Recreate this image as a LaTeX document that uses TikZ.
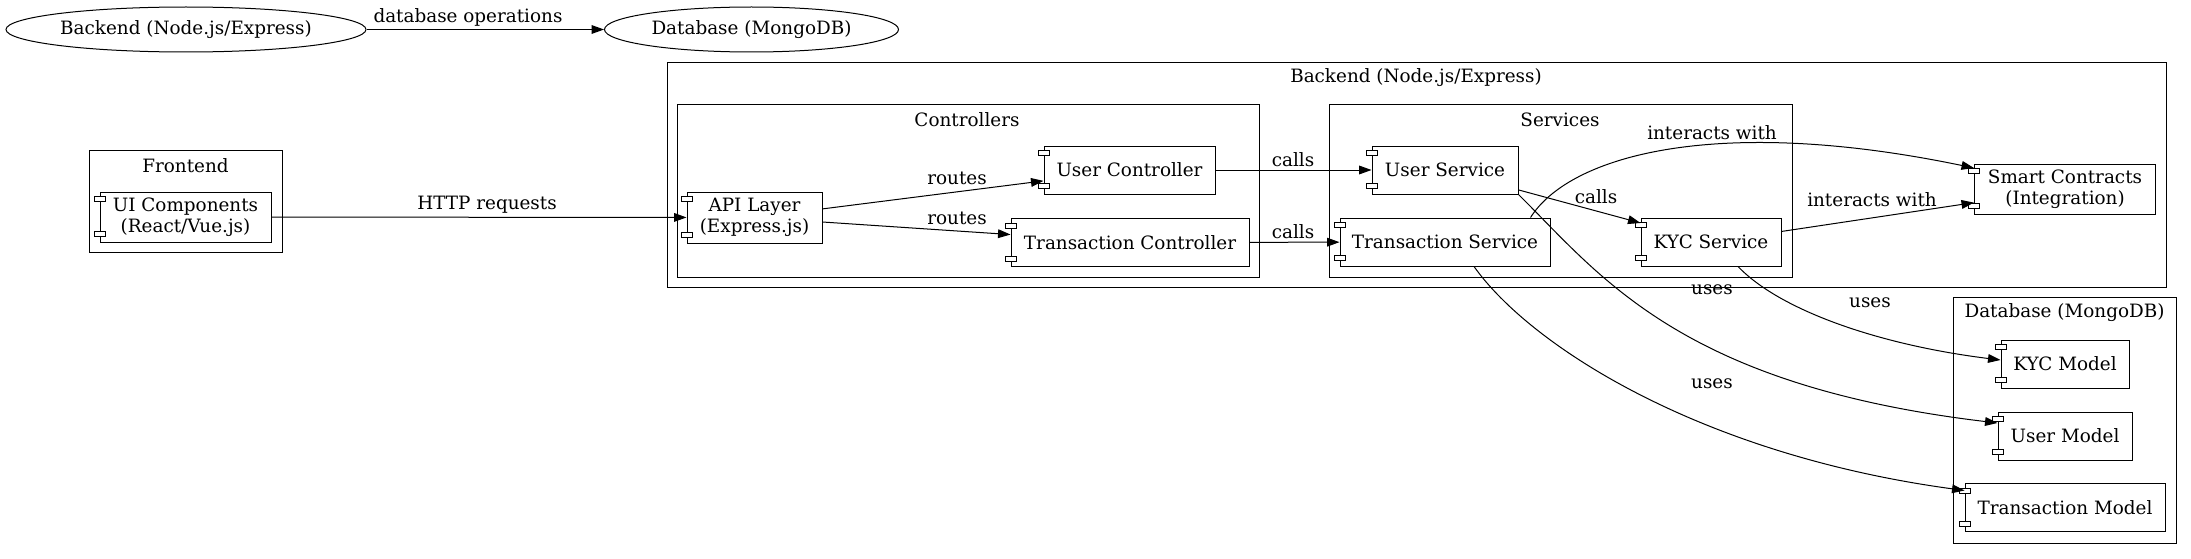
\documentclass[tikz,border=0pt]{standalone}
\usepackage{fontspec}
\setmainfont{DejaVu Serif}
\usetikzlibrary{arrows.meta,shapes.geometric,calc}

\begin{document}
\begin{tikzpicture}[>={Triangle[length=10pt,width=7pt]},x=0.8pt,y=-0.8pt,
                    line width=0.8pt]
  \tikzstyle{every node}=[font=\fontsize{14.7pt}{16.5pt}\selectfont,text=black]
  \tikzstyle{comp}=[draw,rectangle,align=center,inner sep=0pt,minimum height=38.4pt]
  \tikzstyle{oval}=[draw,ellipse,inner sep=0pt,minimum height=36pt]
  \tikzstyle{lbl}=[inner sep=0pt]

  \useasboundingbox (0,0) rectangle (2191,559);

  % overview
  \node[oval,minimum width=288pt]   (bk) at (186,29.5)   {Backend (Node.js/Express)};
  \node[oval,minimum width=235.2pt] (db) at (751.5,29.5) {Database (MongoDB)};
  \draw[->] (bk) -- (db) node[lbl] at (468,17) {database operations};

  % clusters
  \draw (89,150) rectangle (282,252);
  \node[lbl] (fe) at (185.5,166) {Frontend};
  \draw (667,63) rectangle (2166,287);
  \node[lbl] (be) at (1416,78) {Backend (Node.js/Express)};
  \draw (677,105) rectangle (1259,277);
  \node[lbl] (ctl) at (967,120) {Controllers};
  \draw (1329,105) rectangle (1792,277);
  \node[lbl] (srv) at (1560,120) {Services};
  \draw (1953,297) rectangle (2176,543);
  \node[lbl] (mdb) at (2064.5,313) {Database (MongoDB)};

  % components
  \node[comp,minimum width=136.8pt,minimum height=40pt]   (ui)  at (185.5,217)  {UI Components\\(React/Vue.js)};
  \node[comp,minimum width=108pt,minimum height=40.8pt]   (api) at (754.5,217.5) {API Layer\\(Express.js)};
  \node[comp,minimum width=136.8pt] (uc)  at (1129.5,170) {User Controller};
  \node[comp,minimum width=190.4pt] (tc)  at (1130,242.5) {Transaction Controller};
  \node[comp,minimum width=116.8pt] (us)  at (1445,170)   {User Service};
  \node[comp,minimum width=168pt]   (ts)  at (1445,242)   {Transaction Service};
  \node[comp,minimum width=112pt]   (kyc) at (1711,242)   {KYC Service};
  \node[comp,minimum width=144.8pt,minimum height=40pt] (sc) at (2065,189) {Smart Contracts\\(Integration)};
  \node[comp,minimum width=102.4pt] (km)  at (2065,364)   {KYC Model};
  \node[comp,minimum width=107.2pt] (um)  at (2065,436)   {User Model};
  \node[comp,minimum width=160pt]   (tm)  at (2065,507.5) {Transaction Model};

  \foreach \n in {ui,api,uc,tc,us,ts,kyc,sc,km,um,tm}{
    \draw[fill=white,line width=0.7pt] ($(\n.north west)+(-5.5,5)$) rectangle ++(11,5);
    \draw[fill=white,line width=0.7pt] ($(\n.south west)+(-5.5,-11)$) rectangle ++(11,5);
  }

  % connectors
  \draw[->] (ui) -- (api) node[lbl] at (487,205) {HTTP requests};
  \draw[->] (api) -- (uc) node[lbl] at (957,178) {routes};
  \draw[->] (api) -- (tc) node[lbl] at (957,218) {routes};
  \draw[->] (uc) -- (us)  node[lbl] at (1293,160) {calls};
  \draw[->] (tc) -- (ts)  node[lbl] at (1293,232) {calls};
  \draw[->] (us) -- (kyc) node[lbl] at (1596,197) {calls};
  \draw[->] (kyc) -- (sc) node[lbl] at (1872,200) {interacts with};
  \draw[->] ($(ts.north east)+(-20,0)$) .. controls +(40,-63) and +(-255,-53) .. ($(sc.west)+(0,-21)$)
    node[lbl] at (1712,133) {interacts with};
  \draw[->] (us.south east) .. controls +(82,81) and +(-318,-38) .. ($(um.west)+(0,-13)$)
    node[lbl] at (1712,290) {uses};
  \draw[->] ($(kyc.south)+(27,0)$) .. controls +(42,44) and +(-121,-15) .. ($(km.west)+(0,-4)$)
    node[lbl] at (1870,303) {uses};
  \draw[->] ($(ts.south)+(29,0)$) .. controls +(56,79) and +(-265,-36) .. ($(tm.west)+(0,-17)$)
    node[lbl] at (1712,384) {uses};
\end{tikzpicture}
\end{document}
